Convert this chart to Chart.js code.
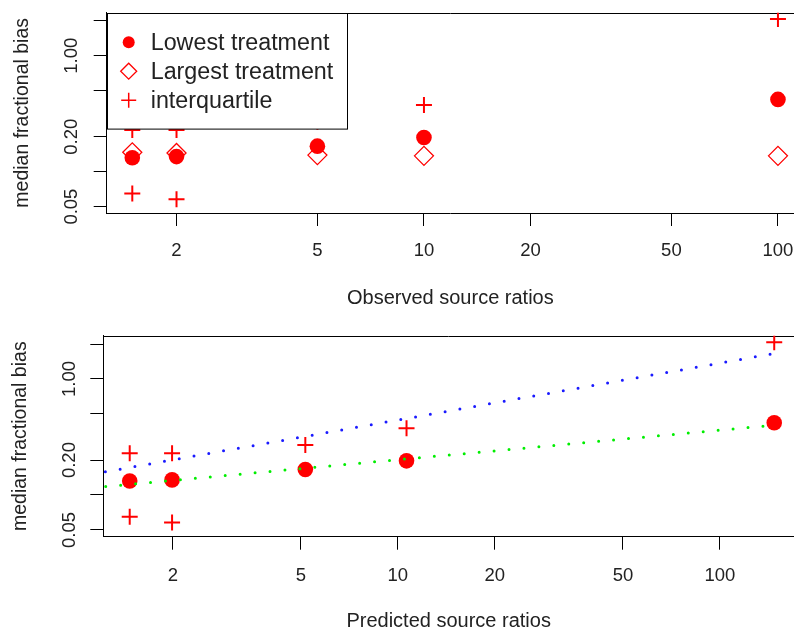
<!DOCTYPE html>
<html>
<head>
<meta charset="utf-8">
<title>Median fractional bias vs source ratios</title>
<script src="https://cdn.jsdelivr.net/npm/chart.js@4.4.1/dist/chart.umd.min.js"></script>
<style>
  html, body { margin: 0; padding: 0; background: #fff; overflow: hidden; }
  #wrap { position: relative; width: 794px; height: 633px; }
  canvas { position: absolute; left: 0; }
  #top-plot { top: 0; }
  #bottom-plot { top: 316px; }
</style>
</head>
<body>
<div id="wrap">
  <canvas id="top-plot" width="794" height="316"></canvas>
  <canvas id="bottom-plot" width="794" height="317"></canvas>
</div>
<script>
// values, both panels are log-log
var observedRatios = [1.5, 2, 5, 10, 100];
var predictedRatios = [1.47, 1.99, 5.16, 10.64, 147.5];
var lowestBias = [0.132, 0.135, 0.166, 0.197, 0.42];
var largestBias = [0.147, 0.145, 0.139, 0.137, 0.137];
var iqrUpper = [0.229, 0.229, 0.27, 0.376, 2.07];
var iqrLower = [0.065, 0.058, null, null, null];

// dotted fit lines in the lower panel (end points)
var fitX = [1, 147.5];
var upperFit = [0.143, 1.66];
var medianFit = [0.112, 0.40];

var legendLabels = ['Lowest treatment', 'Largest treatment', 'interquartile'];
var xTicks = [2, 5, 10, 20, 50, 100];
var xTickLabels = ['2', '5', '10', '20', '50', '100'];
var yTicks = [0.05, 0.1, 0.2, 0.5, 1, 2];
var yTickLabels = ['0.05', '', '0.20', '', '1.00', ''];

var RED = '#ff0000';
var INK = '#222222';
Chart.defaults.font.family = "'Liberation Sans', Arial, sans-serif";

function pts(xs, ys) {
    return xs.map(function (x, i) { return {x: x, y: ys[i]}; })
             .filter(function (p) { return p.y != null; });
}

function lowestSet(xs) {
    return {
        label: legendLabels[0],
        data: pts(xs, lowestBias),
        pointStyle: 'circle',
        pointRadius: 7.8,
        pointBackgroundColor: RED,
        pointBorderColor: RED,
        pointBorderWidth: 0
    };
}

function largestSet(xs) {
    return {
        label: legendLabels[1],
        data: pts(xs, largestBias),
        pointStyle: 'rectRot',
        pointRadius: 9.5,
        pointBackgroundColor: 'rgba(0,0,0,0)',
        pointBorderColor: RED,
        pointBorderWidth: 1.3
    };
}

function quartileSets(xs) {
    return [iqrUpper, iqrLower].map(function (ys, k) {
        return {
            label: k === 0 ? legendLabels[2] : 'lower quartile',
            data: pts(xs, ys),
            pointStyle: 'cross',
            pointRadius: 8,
            pointBorderColor: RED,
            pointBorderWidth: 2
        };
    });
}

function logAxes(cfg) {
    return {
        x: {
            type: 'logarithmic',
            bounds: 'data',
            min: cfg.xMin,
            max: cfg.xMax,
            afterBuildTicks: function (s) {
                s.ticks = xTicks.map(function (v) { return {value: v}; });
            },
            afterFit: function (s) {
                s.height = cfg.xHeight;
                s.paddingLeft = 0;
                s.paddingRight = 0;
            },
            grid: { drawOnChartArea: false, tickLength: 13, color: '#000', lineWidth: 1 },
            border: { display: true, color: '#000', width: 1 },
            ticks: {
                autoSkip: false, maxRotation: 0, padding: cfg.xTickPad, color: INK,
                font: { size: 18.5 },
                callback: function (v, i) { return xTickLabels[i]; }
            },
            title: {
                display: true, text: cfg.xTitle, color: INK, font: { size: 20 },
                padding: { top: 0, bottom: cfg.xTitlePad }
            }
        },
        y: {
            type: 'logarithmic',
            bounds: 'data',
            min: cfg.yMin,
            max: cfg.yMax,
            afterBuildTicks: function (s) {
                s.ticks = yTicks.map(function (v) { return {value: v}; });
            },
            afterFit: function (s) {
                s.width = cfg.yWidth;
                s.paddingTop = 0;
                s.paddingBottom = 0;
            },
            grid: { drawOnChartArea: false, tickLength: 13, color: '#000', lineWidth: 1 },
            border: { display: true, color: '#000', width: 1 },
            ticks: {
                autoSkip: false, minRotation: 90, maxRotation: 90, crossAlign: 'center',
                padding: cfg.yTickPad, color: INK, font: { size: 18.5 },
                callback: function (v, i) { return yTickLabels[i]; }
            },
            title: {
                display: true, text: 'median fractional bias', color: INK, font: { size: 19.5 },
                padding: { top: cfg.yTitlePad, bottom: 0 }
            }
        }
    };
}

// top edge of the box (the right edge is cut off in the original)
var topEdge = {
    id: 'topEdge',
    beforeDatasetsDraw: function (chart) {
        var a = chart.chartArea, ctx = chart.ctx;
        ctx.save();
        ctx.strokeStyle = '#000';
        ctx.lineWidth = 1;
        ctx.beginPath();
        ctx.moveTo(a.left, Math.round(a.top) + 0.5);
        ctx.lineTo(a.right, Math.round(a.top) + 0.5);
        ctx.stroke();
        ctx.restore();
    }
};

// R style legend: white box in the top left corner of the plot
var boxLegend = {
    id: 'boxLegend',
    afterDatasetsDraw: function (chart) {
        var a = chart.chartArea, ctx = chart.ctx;
        var left = Math.round(a.left) + 0.5, top = Math.round(a.top) + 0.5;
        var sizes = [6, 8, 7.5];
        var widths = [0, 1.3, 1.5];
        ctx.save();
        ctx.fillStyle = '#fff';
        ctx.fillRect(left, top, 240, 115.6);
        ctx.strokeStyle = '#000';
        ctx.lineWidth = 1;
        ctx.strokeRect(left, top, 240, 115.6);
        ctx.font = "23.3px 'Liberation Sans', Arial, sans-serif";
        ctx.textBaseline = 'middle';
        for (var i = 0; i < legendLabels.length; i++) {
            var ds = chart.data.datasets[i];
            var y = a.top + 29.5 + i * 29;
            ctx.fillStyle = ds.pointBackgroundColor || 'rgba(0,0,0,0)';
            ctx.strokeStyle = ds.pointBorderColor;
            ctx.lineWidth = widths[i];
            Chart.helpers.drawPoint(ctx, {
                pointStyle: ds.pointStyle, radius: sizes[i], borderWidth: widths[i]
            }, a.left + 22, y);
            ctx.fillStyle = INK;
            ctx.fillText(legendLabels[i], a.left + 44, y + 1);
        }
        ctx.restore();
    }
};

var topChart = new Chart(document.getElementById('top-plot'), {
    type: 'scatter',
    data: {
        datasets: [lowestSet(observedRatios), largestSet(observedRatios)]
            .concat(quartileSets(observedRatios))
    },
    options: {
        responsive: false,
        animation: false,
        devicePixelRatio: 1,
        layout: { autoPadding: false, padding: { top: 12.7, left: 0, right: 0, bottom: 0 } },
        plugins: { legend: { display: false }, tooltip: { enabled: false } },
        scales: logAxes({
            xMin: 1.27, xMax: 111, yMin: 0.04405, yMax: 2.349,
            yWidth: 106.7, xHeight: 103,
            xTitle: 'Observed source ratios',
            xTickPad: 14, xTitlePad: 6, yTickPad: 4, yTitlePad: 11
        })
    },
    plugins: [topEdge, boxLegend]
});

var bottomSets = [{
    type: 'line',
    label: 'upper fit',
    data: pts(fitX, upperFit),
    showLine: true,
    borderColor: '#1a1aff',
    borderWidth: 3,
    borderDash: [0, 15],
    borderCapStyle: 'round',
    pointRadius: 0,
    fill: false
}, {
    type: 'line',
    label: 'median fit',
    data: pts(fitX, medianFit),
    showLine: true,
    borderColor: '#00ee00',
    borderWidth: 3,
    borderDash: [0, 15],
    borderCapStyle: 'round',
    pointRadius: 0,
    fill: false
}, lowestSet(predictedRatios)].concat(quartileSets(predictedRatios));

var bottomChart = new Chart(document.getElementById('bottom-plot'), {
    type: 'scatter',
    data: { datasets: bottomSets },
    options: {
        responsive: false,
        animation: false,
        devicePixelRatio: 1,
        layout: { autoPadding: false, padding: { top: 19.7, left: 0, right: 0, bottom: 0 } },
        plugins: { legend: { display: false }, tooltip: { enabled: false } },
        scales: logAxes({
            xMin: 1.217, xMax: 169.9, yMin: 0.0437, yMax: 2.362,
            yWidth: 103.3, xHeight: 96.3,
            xTitle: 'Predicted source ratios',
            xTickPad: 15.5, xTitlePad: 0, yTickPad: 2.5, yTitlePad: 9
        })
    },
    plugins: [topEdge]
});
</script>
</body>
</html>
